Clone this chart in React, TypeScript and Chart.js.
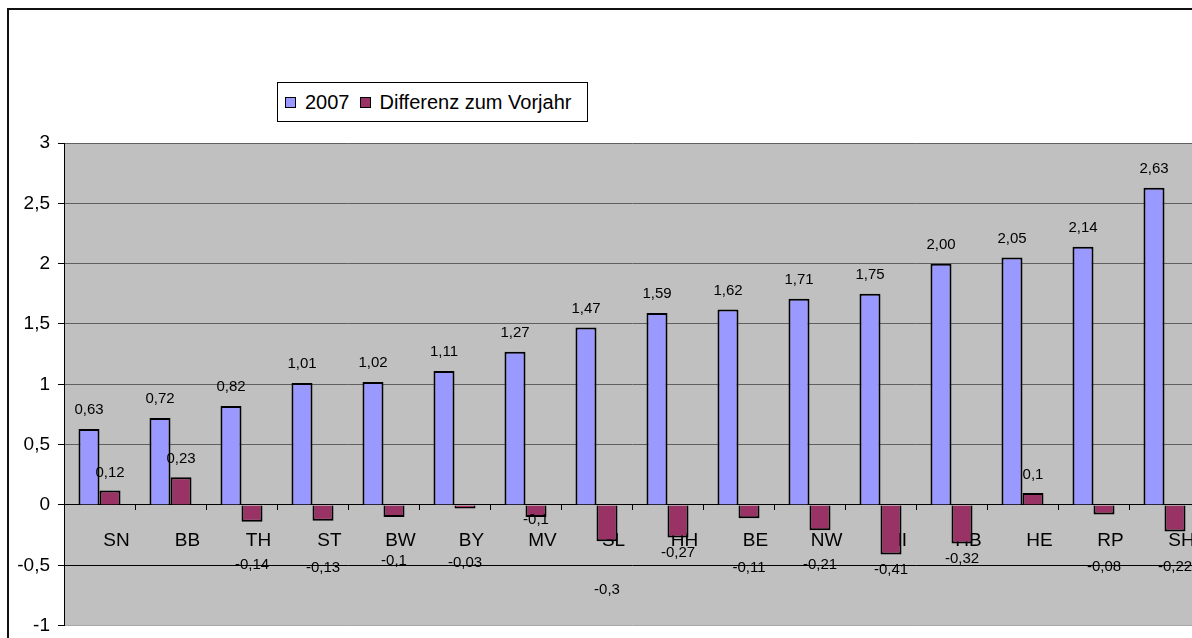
import React, { useEffect, useRef } from "react";
import { Chart, registerables } from "chart.js";

Chart.register(...registerables);

const categories = ["SN", "BB", "TH", "ST", "BW", "BY", "MV", "SL", "HH", "BE", "NW", "NI", "HB", "HE", "RP", "SH"];
const values2007 = [0.63, 0.72, 0.82, 1.01, 1.02, 1.11, 1.27, 1.47, 1.59, 1.62, 1.71, 1.75, 2.0, 2.05, 2.14, 2.63];
const diffVorjahr = [0.12, 0.23, -0.14, -0.13, -0.1, -0.03, -0.1, -0.3, -0.27, -0.11, -0.21, -0.41, -0.32, 0.1, -0.08, -0.22];
// where the (manually placed) labels of negative differences sit, in axis units
const diffLabelAnchor = [null, null, -0.5, -0.52, -0.46, -0.48, -0.12, -0.7, -0.4, -0.52, -0.5, -0.54, -0.45, null, -0.51, -0.51];
const yTicks = [-1, -0.5, 0, 0.5, 1, 1.5, 2, 2.5, 3];

const FONT = "'Liberation Sans', Arial, sans-serif";
const BLUE = "#9999FF";
const RED = "#993366";

const fmt = (v: number) => String(v).replace(".", ",");

const plotBg = {
  id: "plotBg",
  beforeDraw(chart: any) {
    const { ctx, chartArea } = chart;
    ctx.save();
    ctx.fillStyle = "#C0C0C0";
    ctx.fillRect(chartArea.left, chartArea.top, chartArea.right - chartArea.left, chartArea.bottom - chartArea.top);
    ctx.restore();
  },
};

const dataLabels = {
  id: "dataLabels",
  afterDatasetsDraw(chart: any) {
    const { ctx } = chart;
    const yScale = chart.scales.y;
    ctx.save();
    ctx.font = `15px ${FONT}`;
    ctx.fillStyle = "#000";
    ctx.textAlign = "center";
    ctx.textBaseline = "middle";
    chart.getDatasetMeta(0).data.forEach((el: any, i: number) => {
      ctx.fillText(values2007[i].toFixed(2).replace(".", ","), el.x, el.y - 19);
    });
    chart.getDatasetMeta(1).data.forEach((el: any, i: number) => {
      const a = diffLabelAnchor[i];
      const y = a === null ? el.y - 18 : yScale.getPixelForValue(a);
      ctx.fillText(fmt(diffVorjahr[i]), el.x, y);
    });
    ctx.restore();
  },
};

export default function App() {
  const ref = useRef<HTMLCanvasElement>(null);
  useEffect(() => {
    if (!ref.current) return;
    const chart = new Chart(ref.current, {
      type: "bar",
      data: {
        labels: categories,
        datasets: [
          { label: "2007", data: values2007, backgroundColor: BLUE, borderColor: "#000", borderWidth: 2 },
          { label: "Differenz zum Vorjahr", data: diffVorjahr, backgroundColor: RED, borderColor: "#000", borderWidth: 2 },
        ],
      },
      options: {
        animation: false,
        responsive: false,
        layout: { padding: { top: 143, bottom: 0, right: 10, left: 0 } },
        datasets: { bar: { categoryPercentage: 0.592, barPercentage: 1 } },
        plugins: { legend: { display: false }, tooltip: { enabled: false } },
        scales: {
          x: {
            type: "category",
            position: { y: 0 } as any,
            offset: true,
            grid: { display: true, drawOnChartArea: false, drawTicks: true, tickLength: 5, color: "#000", offset: true },
            border: { display: true, color: "#000", width: 1 },
            ticks: { font: { family: FONT, size: 19 }, color: "#000", padding: 19, labelOffset: 17, maxRotation: 0, autoSkip: false },
          },
          y: {
            min: -1,
            max: 3,
            afterBuildTicks(scale: any) {
              scale.ticks = yTicks.map((v) => ({ value: v }));
            },
            afterFit(scale: any) {
              scale.width = 64;
            },
            grid: {
              color: (c: any) => (c.tick && (c.tick.value === -0.5 || c.tick.value === 0) ? "#000" : c.tick && c.tick.value === -1 ? "#A8A8A8" : "#606060"),
              tickColor: "#000",
              tickLength: 6,
              lineWidth: 1,
            },
            border: { display: true, color: "#000", width: 1 },
            ticks: { font: { family: FONT, size: 19 }, color: "#000", padding: 8, callback: (v: any) => fmt(Number(v)) },
          },
        },
      },
      plugins: [plotBg, dataLabels],
    });
    return () => chart.destroy();
  }, []);

  const sw = (c: string) => ({ display: "inline-block", width: 9, height: 9, background: c, border: "1px solid #000" });

  return (
    <div style={{ position: "fixed", left: 0, top: 0, width: 1192, height: 638, overflow: "hidden", background: "#fff" }}>
      <canvas ref={ref} width={1210} height={645} style={{ position: "absolute", left: 0, top: 0 }} />
      <div style={{ position: "absolute", left: 7, top: 8, width: 1300, height: 700, borderLeft: "2px solid #111", borderTop: "2px solid #111", pointerEvents: "none" }} />
      <div
        style={{
          position: "absolute", left: 277, top: 82, width: 309, height: 38, border: "1px solid #000", background: "#fff",
          display: "flex", alignItems: "center", fontFamily: FONT, fontSize: 20, color: "#000", whiteSpace: "nowrap",
        }}
      >
        <span style={{ ...sw(BLUE), marginLeft: 7, marginRight: 9 }} />
        <span>2007</span>
        <span style={{ ...sw(RED), marginLeft: 10, marginRight: 9 }} />
        <span>Differenz zum Vorjahr</span>
      </div>
    </div>
  );
}
